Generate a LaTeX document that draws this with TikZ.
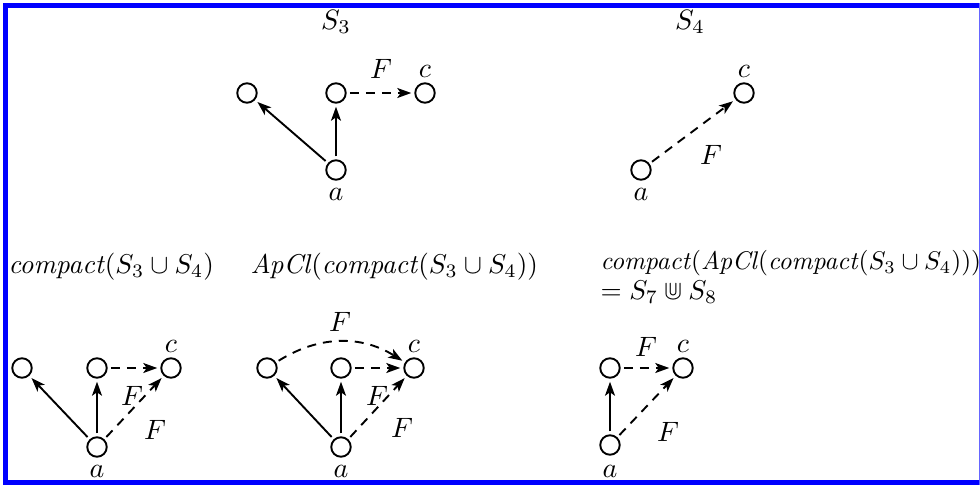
\documentclass[tikz,border=0pt]{standalone}
\usepackage{amssymb}
\usetikzlibrary{arrows.meta}
\begin{document}
\begin{tikzpicture}[x=1pt,y=-1pt,
  vtx/.style={circle,draw,line width=1.9pt,minimum size=19.5pt,inner sep=0pt,outer sep=4pt},
  lbl/.style={font=\normalsize, scale=2.8, inner sep=0pt},
  ttl/.style={font=\normalsize, scale=2.72, inner sep=0pt,anchor=west},
  solidarr/.style={line width=1.9pt,-{Stealth[length=14pt,width=10pt,inset=3.5pt]}},
  dasharr/.style={solidarr, dash pattern=on 9pt off 7pt}]
\useasboundingbox (0,0) rectangle (980,485);
% border
\fill[blue] (3,3) rectangle (8,485);
\fill[blue] (3,3) rectangle (980,8);
\fill[blue] (3,480) rectangle (980,485);
\fill[blue!60] (978.5,3) rectangle (980,485);

% S3
\node[lbl] (t1) at (336,22) {$S_3$};
\node[vtx] (al) at (247,93) {};
\node[vtx] (am) at (336,93) {};
\node[vtx] (ac) at (425,93) {};
\node[vtx] (aa) at (336,170) {};
\node[lbl] (acl) at (425,71) {$c$};
\node[lbl] (aal) at (336,194) {$a$};
\draw[solidarr] (aa) -- (al);
\draw[solidarr] (aa) -- (am);
\draw[dasharr] (am) -- (ac);
\node[lbl] (aF) at (381,69) {$F$};

% S4
\node[lbl] (t2) at (690,22) {$S_4$};
\node[vtx] (bc) at (744,93) {};
\node[vtx] (ba) at (641,170) {};
\node[lbl] (bcl) at (744,71) {$c$};
\node[lbl] (bal) at (641,194) {$a$};
\draw[dasharr] (ba) -- (bc);
\node[lbl] (bF) at (711,155) {$F$};

% compact(S3 u S4)
\node[ttl] (t3) at (8,267) {\textit{compact}$(S_3\cup S_4)$};
\node[vtx] (cl) at (22,368) {};
\node[vtx] (cm) at (97,368) {};
\node[vtx] (cc) at (171,368) {};
\node[vtx] (ca) at (97,447) {};
\node[lbl] (ccl) at (171,346) {$c$};
\node[lbl] (cal) at (97,471) {$a$};
\draw[solidarr] (ca) -- (cl);
\draw[solidarr] (ca) -- (cm);
\draw[dasharr] (cm) -- (cc);
\draw[dasharr] (ca) -- (cc);
\node[lbl] (cF1) at (132,396) {$F$};
\node[lbl] (cF2) at (155,430) {$F$};

% ApCl(compact(S3 u S4))
\node[ttl] (t4) at (250,267) {\textit{ApCl}$($\textit{compact}$(S_3\cup S_4))$};
\node[vtx] (dl) at (267,368) {};
\node[vtx] (dm) at (341,368) {};
\node[vtx] (dc) at (414,368) {};
\node[vtx] (da) at (341,447) {};
\node[lbl] (dcl) at (414,346) {$c$};
\node[lbl] (dal) at (341,471) {$a$};
\draw[solidarr] (da) -- (dl);
\draw[solidarr] (da) -- (dm);
\draw[dasharr] (dm) -- (dc);
\draw[dasharr] (da) -- (dc);
\draw[dasharr] (dl) to[bend left=32] (dc);
\node[lbl] (dF0) at (340,322) {$F$};
\node[lbl] (dF1) at (377,396) {$F$};
\node[lbl] (dF2) at (402,428) {$F$};

% compact(ApCl(compact(S3 u S4)))
\node[ttl,scale=0.94] (t5) at (600,263) {\textit{compact}$($\textit{ApCl}$($\textit{compact}$(S_3\cup S_4)))$};
\node[ttl] (t6) at (600,292) {$=S_7\Cup S_8$};
\node[vtx] (em) at (610,368) {};
\node[vtx] (ec) at (683,368) {};
\node[vtx] (ea) at (610,445) {};
\node[lbl] (ecl) at (683,346) {$c$};
\node[lbl] (eal) at (610,471) {$a$};
\draw[solidarr] (ea) -- (em);
\draw[dasharr] (em) -- (ec);
\draw[dasharr] (ea) -- (ec);
\node[lbl] (eF1) at (646,347) {$F$};
\node[lbl] (eF2) at (668,432) {$F$};
\end{tikzpicture}
\end{document}
